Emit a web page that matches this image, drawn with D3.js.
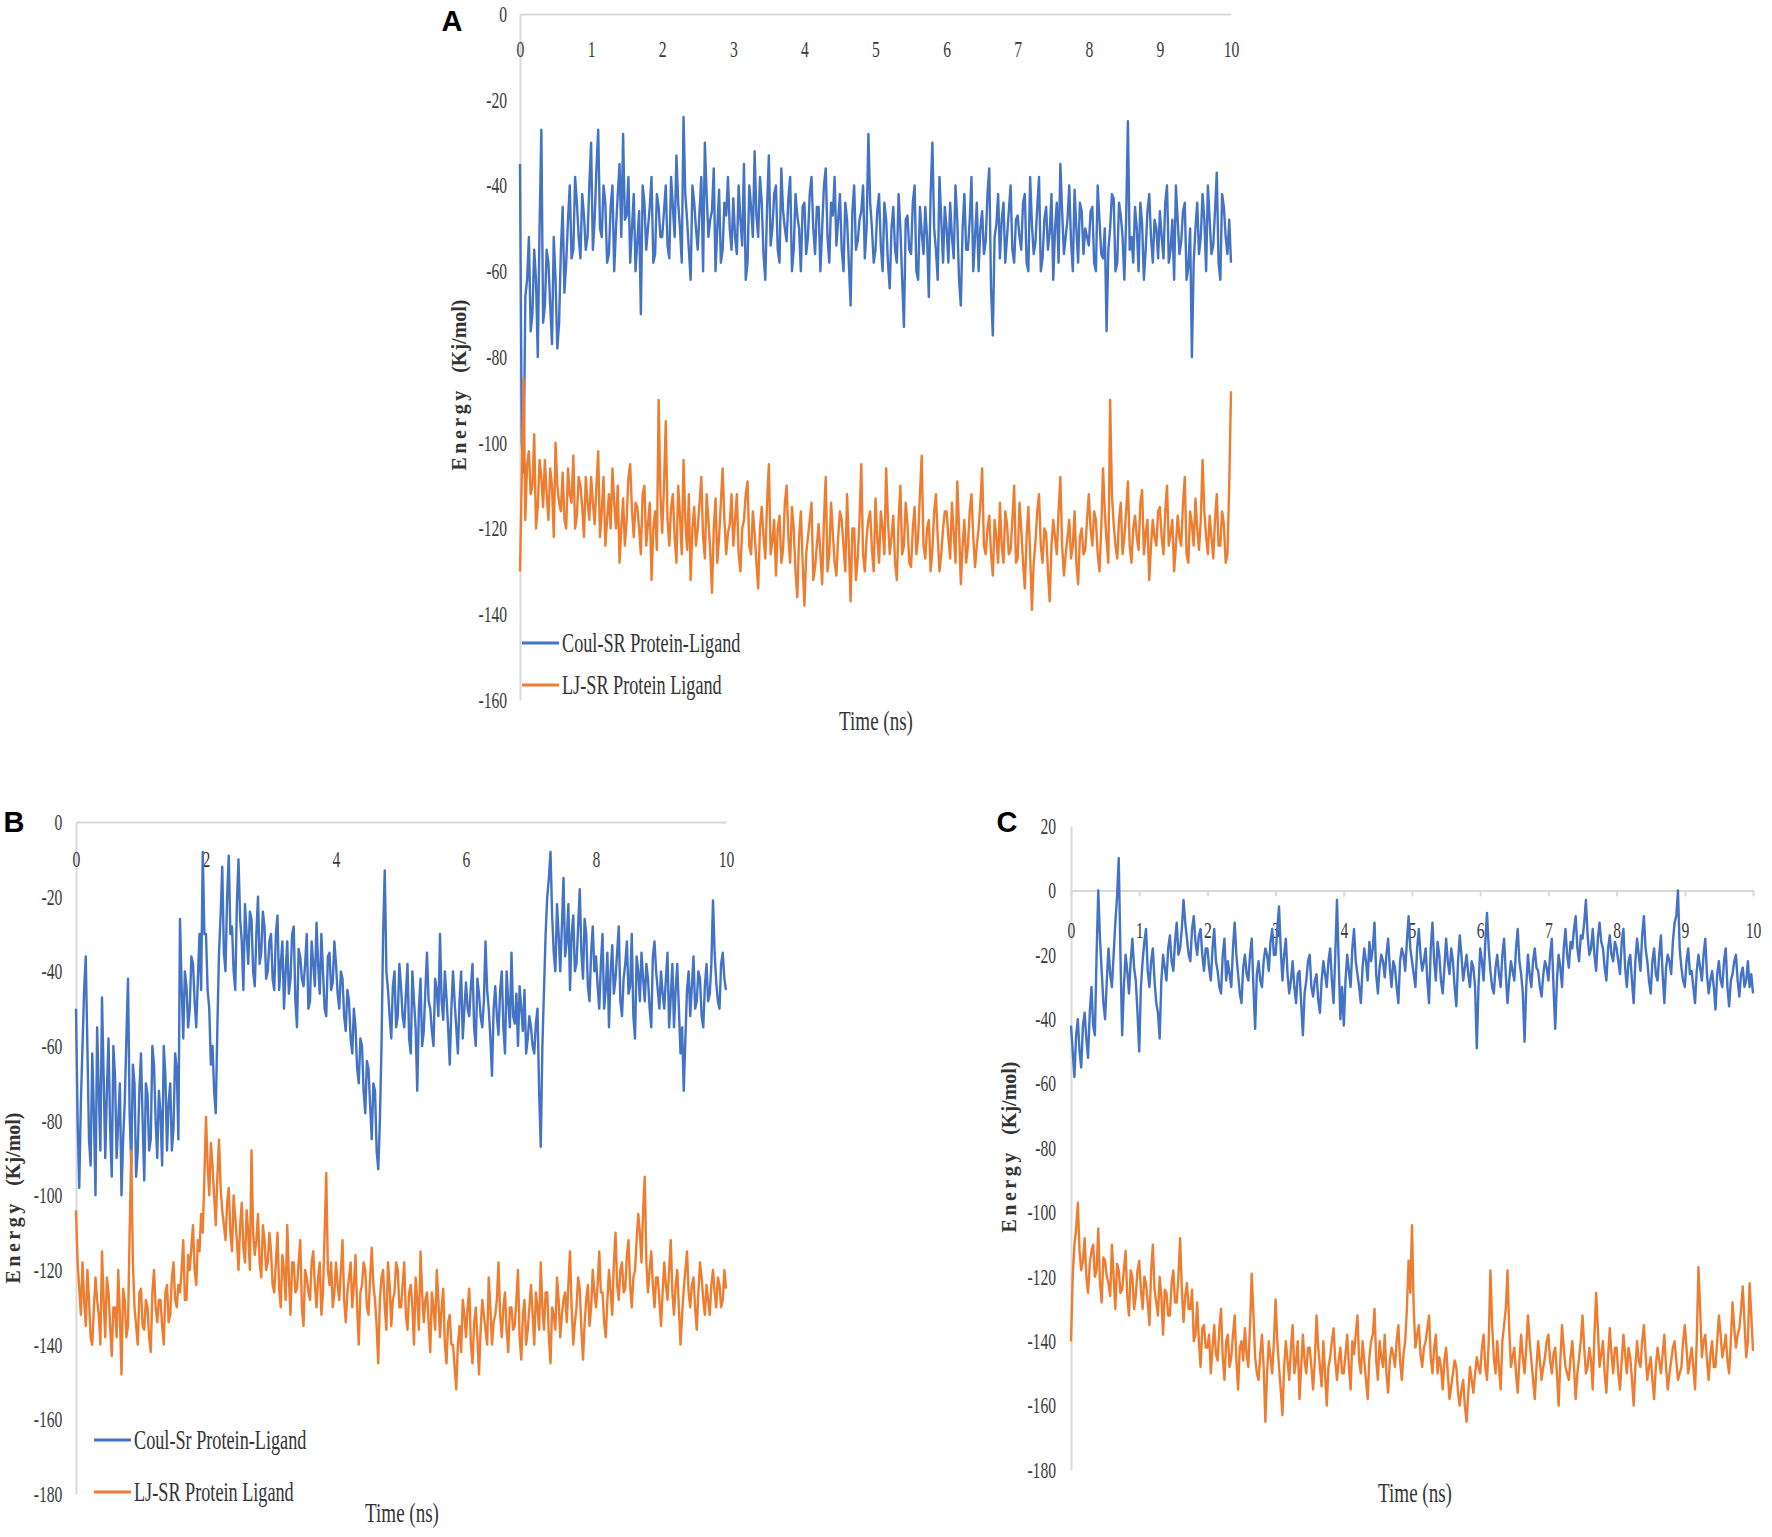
<!DOCTYPE html>
<html lang="en">

<head>
  <meta charset="utf-8" />
  <title>Energy (Kj/mol) vs Time (ns)</title>
  <script type="text/javascript" src="https://cdnjs.cloudflare.com/ajax/libs/d3/7.8.5/d3.min.js"></script>
  <style>
    body {
      margin: 0;
      background: #ffffff;
    }

    .tick text {
      font-family: "Liberation Serif", "Times New Roman", serif;
      font-size: 23px;
      fill: #3a3a3a;
    }

    .axis .domain,
    .axis .tick line {
      stroke: #d9d9d9;
      stroke-width: 2;
    }

    .serif {
      font-family: "Liberation Serif", "Times New Roman", serif;
      fill: #333333;
    }

    .letter {
      font-family: "Liberation Sans", Arial, sans-serif;
      font-weight: bold;
      font-size: 29px;
      fill: #000;
    }
  </style>
</head>

<body>
  <script type="text/javascript">
    // samples every 0.05 ns (t = 0, 0.05, ... 10) and the in-between samples (t = 0.025, 0.075, ...)
    var step = 0.05;

    // panel A
    var aCoul = [-35, -107, -62, -74, -55, -80, -27, -68, -58, -77, -62, -72, -45, -58, -40, -55, -44, -57, -47, -52,
      -30, -48, -27, -52, -44, -56, -40, -50, -35, -28, -47, -58, -42, -53, -70, -44, -50, -38, -56, -45,
      -52, -40, -57, -45, -33, -50, -24, -48, -62, -44, -55, -38, -30, -52, -46, -60, -41, -55, -47, -50,
      -43, -56, -48, -35, -58, -45, -32, -52, -44, -62, -33, -50, -40, -58, -46, -53, -38, -55, -47, -60,
      -44, -52, -38, -56, -45, -50, -36, -58, -47, -54, -42, -60, -48, -68, -40, -53, -46, -57, -28, -50,
      -55, -42, -60, -48, -64, -45, -58, -50, -73, -47, -56, -40, -62, -51, -45, -66, -30, -55, -38, -58,
      -50, -44, -57, -48, -68, -42, -55, -38, -52, -60, -46, -53, -36, -75, -49, -57, -44, -52, -40, -58,
      -47, -55, -42, -60, -49, -53, -38, -57, -45, -51, -62, -44, -35, -56, -48, -53, -41, -58, -46, -50,
      -54, -45, -60, -48, -57, -74, -50, -43, -58, -47, -62, -25, -52, -45, -60, -49, -55, -42, -58, -50,
      -46, -57, -40, -55, -62, -48, -53, -44, -59, -80, -50, -56, -42, -60, -48, -54, -37, -62, -45, -56,
      -58];
    var aCoulHalf = [-100, -66, -52, -70, -62, -50, -72, -55, -68, -52, -78, -55, -65, -48, -57, -38, -52, -42, -55, -40,
      -55, -36, -50, -40, -58, -45, -60, -42, -52, -48, -38, -50, -60, -46, -40, -55, -45, -58, -42, -52,
      -46, -54, -38, -52, -44, -58, -42, -55, -40, -50, -46, -60, -42, -48, -36, -50, -58, -44, -38, -55,
      -52, -40, -54, -62, -40, -52, -47, -38, -56, -45, -54, -42, -55, -36, -50, -43, -60, -42, -50, -45,
      -56, -42, -50, -45, -60, -40, -52, -44, -38, -48, -55, -44, -58, -46, -55, -48, -40, -50, -44, -58,
      -46, -54, -44, -58, -50, -55, -42, -62, -48, -55, -44, -60, -45, -56, -52, -42, -50, -62, -48, -45,
      -58, -52, -40, -62, -50, -55, -48, -60, -44, -50, -56, -42, -64, -52, -42, -48, -58, -46, -55, -48,
      -52, -44, -58, -38, -56, -45, -60, -48, -55, -42, -50, -58, -46, -52, -40, -60, -50, -44, -56, -52,
      -46, -58, -40, -56, -50, -55, -42, -60, -44, -52, -48, -55, -58, -50, -44, -62, -46, -52, -48, -57,
      -52, -44, -58, -48, -40, -56, -46, -62, -50, -58, -44, -52, -48, -40, -56, -46, -58, -42, -52, -48];
    var aLJ = [-130, -85, -105, -112, -98, -115, -108, -104, -118, -110, -100, -114, -107, -120, -112, -103, -117, -110, -122, -114,
      -108, -119, -102, -116, -124, -112, -106, -120, -128, -113, -118, -105, -122, -115, -126, -110, -119, -132, -116, -90,
      -121, -95, -124, -112, -128, -117, -104, -125, -132, -115, -120, -108, -127, -118, -135, -113, -122, -106, -126, -119,
      -124, -112, -130, -118, -109, -126, -121, -134, -115, -127, -105, -123, -131, -117, -125, -110, -128, -120, -136, -116,
      -138, -122, -114, -129, -119, -133, -108, -126, -121, -131, -116, -124, -112, -137, -120, -127, -105, -130, -118, -125,
      -113, -128, -120, -106, -126, -117, -132, -110, -124, -119, -129, -115, -122, -103, -127, -118, -125, -112, -130, -120,
      -116, -127, -121, -109, -133, -118, -124, -112, -129, -120, -106, -126, -117, -131, -122, -114, -128, -119, -125, -110,
      -127, -120, -134, -115, -139, -123, -112, -128, -121, -137, -118, -126, -108, -131, -122, -127, -116, -133, -120, -125,
      -112, -124, -118, -130, -106, -123, -90, -119, -127, -114, -122, -109, -128, -117, -125, -111, -121, -132, -118, -124,
      -115, -126, -110, -121, -130, -117, -124, -108, -128, -119, -113, -125, -104, -122, -117, -127, -112, -124, -119, -126,
      -88];
    var aLJHalf = [-108, -118, -102, -110, -120, -104, -115, -112, -106, -122, -110, -116, -118, -106, -114, -120, -108, -115, -108, -118,
      -114, -110, -122, -108, -118, -120, -114, -110, -120, -124, -108, -116, -114, -120, -112, -124, -114, -120, -125, -112,
      -110, -118, -115, -122, -110, -126, -118, -112, -120, -124, -114, -122, -112, -125, -120, -128, -114, -118, -121, -112,
      -118, -126, -120, -112, -124, -116, -128, -120, -122, -114, -126, -118, -120, -128, -114, -122, -115, -130, -122, -128,
      -126, -118, -132, -124, -126, -118, -130, -114, -128, -122, -118, -130, -124, -120, -132, -118, -126, -122, -116, -130,
      -122, -116, -126, -118, -122, -128, -118, -126, -114, -128, -120, -126, -112, -124, -120, -130, -116, -122, -126, -116,
      -122, -114, -128, -120, -124, -128, -116, -122, -124, -114, -124, -120, -126, -118, -128, -124, -116, -126, -118, -128,
      -114, -128, -122, -126, -128, -116, -124, -120, -130, -124, -122, -116, -124, -126, -118, -124, -128, -122, -126, -118,
      -120, -116, -126, -120, -116, -128, -112, -124, -118, -126, -116, -124, -120, -122, -114, -126, -118, -124, -122, -116,
      -122, -116, -124, -118, -124, -122, -114, -126, -116, -124, -120, -118, -116, -126, -122, -118, -124, -116, -128, -110];

    // panel B
    var bCoul = [-50, -98, -60, -36, -85, -62, -100, -72, -47, -90, -58, -95, -68, -80, -100, -75, -42, -92, -70, -88,
      -62, -96, -73, -85, -65, -90, -78, -60, -88, -70, -82, -66, -26, -58, -44, -50, -38, -55, -30, -8,
      -30, -50, -60, -78, -35, -12, -40, -9, -28, -45, -10, -32, -22, -38, -26, -44, -20, -35, -28, -40,
      -30, -45, -25, -38, -50, -32, -42, -28, -55, -36, -44, -30, -48, -38, -27, -46, -40, -52, -35, -43,
      -38, -50, -42, -56, -48, -62, -55, -70, -60, -78, -66, -85, -72, -93, -60, -13, -45, -58, -40, -52,
      -44, -55, -38, -62, -48, -72, -42, -56, -35, -50, -60, -45, -30, -53, -47, -65, -40, -55, -48, -58,
      -43, -52, -38, -60, -46, -55, -32, -50, -68, -44, -57, -40, -62, -48, -35, -54, -60, -50, -45, -58,
      -55, -62, -50, -87, -45, -20, -8, -35, -22, -40, -15, -32, -45, -25, -38, -18, -42, -30, -48, -28,
      -36, -50, -30, -45, -55, -33, -42, -28, -52, -38, -46, -30, -58, -40, -35, -48, -42, -55, -32, -45,
      -40, -50, -35, -47, -55, -38, -62, -72, -45, -52, -36, -48, -42, -55, -38, -46, -21, -43, -50, -35,
      -45];
    var bCoulHalf = [-80, -75, -45, -60, -92, -78, -55, -88, -68, -72, -82, -60, -90, -70, -85, -58, -78, -65, -95, -72,
      -80, -70, -88, -60, -80, -72, -92, -68, -75, -88, -62, -85, -44, -40, -55, -36, -48, -42, -45, -30,
      -45, -65, -72, -55, -25, -35, -20, -30, -40, -22, -26, -45, -30, -24, -40, -30, -38, -24, -42, -32,
      -42, -30, -45, -32, -40, -46, -30, -48, -34, -42, -38, -50, -32, -44, -38, -30, -50, -36, -45, -32,
      -46, -40, -52, -45, -58, -50, -66, -58, -72, -64, -76, -70, -88, -80, -30, -40, -52, -44, -55, -38,
      -52, -46, -58, -40, -55, -50, -60, -45, -48, -56, -42, -52, -48, -40, -55, -50, -48, -62, -40, -50,
      -50, -44, -55, -42, -52, -48, -45, -58, -50, -52, -45, -55, -40, -55, -52, -46, -44, -56, -62, -52,
      -60, -54, -72, -60, -30, -15, -25, -40, -30, -28, -36, -22, -30, -40, -28, -35, -26, -44, -35, -40,
      -44, -38, -50, -35, -40, -46, -35, -48, -42, -32, -44, -52, -36, -48, -42, -38, -50, -36, -40, -50,
      -46, -42, -55, -38, -45, -50, -55, -58, -40, -44, -50, -40, -52, -44, -48, -38, -35, -48, -38, -42];
    var bLJ = [-104, -125, -118, -135, -128, -140, -122, -132, -115, -138, -126, -143, -130, -120, -148, -128, -135, -88, -130, -140,
      -125, -136, -130, -142, -120, -134, -128, -140, -124, -132, -118, -130, -126, -112, -128, -120, -108, -124, -115, -110,
      -79, -100, -92, -108, -85, -104, -112, -98, -115, -106, -120, -102, -118, -110, -88, -116, -105, -122, -112, -118,
      -115, -126, -110, -130, -120, -108, -132, -118, -125, -112, -135, -122, -128, -115, -130, -118, -126, -94, -124, -130,
      -118, -128, -112, -134, -122, -130, -116, -140, -124, -120, -132, -114, -128, -145, -122, -130, -118, -135, -126, -120,
      -130, -118, -136, -124, -140, -128, -115, -134, -126, -142, -130, -120, -138, -125, -145, -132, -140, -152, -135, -128,
      -138, -125, -145, -130, -148, -128, -136, -122, -140, -132, -118, -138, -126, -142, -130, -135, -120, -144, -128, -136,
      -124, -140, -130, -118, -136, -126, -145, -132, -122, -138, -128, -134, -115, -140, -130, -125, -144, -128, -135, -120,
      -130, -115, -126, -138, -120, -132, -110, -128, -118, -125, -112, -130, -120, -105, -118, -95, -126, -115, -130, -122,
      -135, -118, -128, -112, -132, -120, -140, -125, -115, -130, -122, -136, -118, -128, -124, -132, -120, -130, -124, -128,
      -125];
    var bLJHalf = [-118, -132, -128, -120, -138, -130, -128, -140, -128, -122, -135, -130, -138, -132, -125, -138, -110, -118, -135, -126,
      -135, -128, -138, -126, -130, -128, -135, -126, -134, -122, -128, -124, -120, -128, -116, -114, -120, -112, -105, -95,
      -92, -86, -100, -95, -98, -108, -102, -110, -100, -112, -108, -114, -104, -120, -110, -112, -118, -108, -120, -110,
      -124, -118, -125, -116, -128, -122, -118, -126, -118, -130, -120, -126, -118, -124, -122, -132, -110, -120, -118, -126,
      -124, -120, -128, -126, -118, -124, -130, -126, -118, -130, -122, -124, -135, -128, -120, -136, -124, -128, -118, -130,
      -124, -132, -126, -130, -122, -136, -126, -128, -134, -126, -136, -128, -130, -140, -134, -140, -146, -140, -142, -132,
      -130, -140, -134, -138, -136, -132, -140, -130, -134, -128, -132, -130, -136, -130, -136, -128, -138, -132, -140, -130,
      -132, -126, -136, -130, -126, -138, -130, -136, -128, -132, -126, -124, -130, -134, -122, -136, -134, -124, -130, -126,
      -124, -126, -134, -128, -126, -118, -124, -120, -126, -116, -124, -122, -112, -110, -104, -118, -120, -124, -122, -128,
      -126, -124, -120, -126, -124, -130, -132, -120, -126, -124, -130, -126, -122, -132, -128, -124, -126, -122, -130, -120];

    // panel C
    var cCoul = [-42, -58, -40, -55, -38, -52, -30, -45, 0, -25, -40, -18, -30, -10, 10, -45, -20, -32, -15, -28,
      -50, -22, -12, -30, -18, -35, -46, -20, -28, -14, -25, -10, -18, -3, -15, -22, -8, -20, -12, -25,
      -18, -28, -12, -25, -32, -15, -22, -30, -10, -26, -35, -20, -28, -15, -43, -22, -30, -18, -25, -12,
      -20, -5, -28, -15, -32, -22, -35, -25, -45, -28, -20, -33, -26, -38, -22, -30, -18, -35, -3, -40,
      -42, -20, -30, -12, -26, -35, -18, -28, -22, -10, -32, -20, -27, -15, -30, -24, -35, -18, -25, -8,
      -22, -30, -12, -25, -18, -35, -10, -28, -20, -32, -15, -26, -22, -36, -14, -28, -20, -30, -24, -49,
      -18, -28, -7, -25, -32, -20, -30, -15, -35, -22, -28, -12, -26, -47, -20, -30, -18, -25, -33, -22,
      -28, -15, -43, -20, -30, -12, -24, -18, -8, -22, -15, -3, -20, -12, -25, -10, -18, -28, -14, -22,
      -18, -26, -12, -30, -20, -35, -15, -25, -8, -22, -32, -18, -28, -14, -35, -20, -26, -10, 0, -24,
      -30, -18, -25, -35, -20, -28, -15, -32, -25, -37, -22, -30, -18, -36, -26, -20, -33, -24, -28, -30,
      -32];
    var cCoulHalf = [-50, -45, -50, -42, -46, -38, -42, -20, -15, -35, -28, -26, -20, -2, -20, -30, -25, -22, -24, -38,
      -30, -16, -25, -22, -28, -38, -28, -24, -18, -22, -16, -20, -12, -10, -20, -12, -16, -14, -20, -18,
      -24, -18, -22, -30, -20, -28, -26, -18, -20, -32, -24, -26, -20, -30, -26, -28, -22, -20, -16, -20,
      -12, -18, -20, -26, -28, -30, -26, -35, -32, -22, -30, -28, -34, -28, -26, -22, -28, -20, -22, -30,
      -28, -25, -18, -22, -30, -24, -22, -16, -18, -26, -24, -22, -20, -24, -22, -30, -22, -20, -16, -18,
      -26, -18, -20, -22, -28, -18, -22, -16, -28, -24, -22, -18, -30, -22, -20, -24, -26, -22, -30, -30,
      -22, -16, -18, -30, -24, -26, -20, -26, -28, -25, -18, -22, -32, -30, -26, -22, -24, -30, -26, -24,
      -20, -30, -28, -24, -18, -20, -16, -12, -18, -14, -10, -14, -18, -20, -15, -16, -24, -18, -20, -16,
      -22, -16, -24, -22, -28, -22, -20, -14, -18, -28, -22, -26, -20, -26, -24, -22, -16, -8, -18, -28,
      -22, -26, -30, -25, -24, -20, -26, -28, -30, -26, -28, -22, -30, -28, -22, -28, -26, -30, -22, -26];
    var cLJ = [-140, -110, -97, -118, -108, -125, -112, -120, -105, -128, -115, -122, -110, -130, -118, -124, -112, -132, -120, -126,
      -115, -130, -122, -135, -110, -128, -120, -138, -125, -132, -118, -128, -108, -134, -122, -130, -140, -128, -148, -135,
      -142, -150, -135, -146, -130, -152, -138, -145, -132, -155, -140, -136, -148, -119, -145, -152, -138, -165, -140, -150,
      -127, -148, -163, -140, -152, -135, -146, -158, -138, -150, -142, -155, -132, -148, -140, -160, -145, -136, -152, -142,
      -150, -138, -155, -144, -132, -150, -146, -158, -140, -130, -152, -145, -138, -156, -142, -148, -135, -152, -140, -115,
      -104, -142, -135, -148, -140, -132, -150, -138, -145, -155, -142, -158, -150, -148, -160, -152, -165, -148, -156, -145,
      -150, -138, -152, -118, -145, -140, -155, -135, -118, -148, -142, -156, -138, -150, -132, -146, -158, -140, -152, -145,
      -138, -150, -142, -160, -135, -148, -152, -140, -158, -145, -132, -150, -142, -155, -125, -148, -140, -156, -136, -150,
      -142, -155, -138, -150, -145, -160, -140, -148, -135, -152, -145, -158, -142, -150, -138, -155, -146, -140, -152, -148,
      -135, -150, -142, -155, -117, -145, -138, -152, -140, -148, -132, -145, -138, -150, -128, -142, -136, -123, -145, -122,
      -143];
    var cLJHalf = [-120, -105, -112, -115, -120, -116, -110, -118, -122, -114, -120, -126, -120, -116, -125, -118, -126, -118, -130, -118,
      -124, -120, -128, -118, -124, -132, -126, -124, -132, -122, -128, -120, -124, -126, -130, -124, -138, -140, -136, -142,
      -138, -142, -144, -136, -145, -140, -148, -138, -146, -142, -146, -144, -135, -132, -150, -144, -148, -150, -145, -140,
      -140, -155, -148, -146, -142, -150, -140, -148, -146, -142, -148, -146, -142, -154, -150, -148, -140, -146, -146, -150,
      -144, -148, -140, -138, -146, -140, -152, -145, -138, -146, -140, -148, -150, -146, -144, -140, -146, -144, -130, -125,
      -130, -138, -144, -142, -136, -145, -142, -150, -148, -146, -150, -154, -146, -156, -155, -160, -156, -152, -150, -148,
      -142, -148, -140, -135, -150, -148, -140, -130, -136, -145, -150, -146, -145, -142, -140, -152, -148, -146, -148, -140,
      -146, -144, -150, -146, -142, -150, -145, -148, -150, -140, -142, -148, -146, -138, -136, -144, -150, -145, -144, -142,
      -150, -146, -144, -142, -152, -148, -146, -140, -144, -148, -152, -148, -146, -144, -148, -150, -142, -146, -150, -140,
      -142, -146, -148, -140, -130, -140, -146, -144, -148, -140, -138, -142, -146, -140, -136, -138, -130, -134, -140, -132];

    // ticks and labels
    var xTicksAC = [0, 1, 2, 3, 4, 5, 6, 7, 8, 9, 10];
    var xTicksB = [0, 2, 4, 6, 8, 10];
    var yTicksA = [0, -20, -40, -60, -80, -100, -120, -140, -160];
    var yTicksB = [0, -20, -40, -60, -80, -100, -120, -140, -160, -180];
    var yTicksC = [20, 0, -20, -40, -60, -80, -100, -120, -140, -160, -180];
    var legendA = ["Coul-SR Protein-Ligand", "LJ-SR Protein Ligand"];
    var legendB = ["Coul-Sr Protein-Ligand", "LJ-SR Protein Ligand"];
    var colors = ["#4472c4", "#ed7d31"];

    // put the in-between samples back in time order
    function weave(main, half) {
      var out = [];
      main.forEach(function (v, i) {
        out.push(v);
        if (i < half.length) out.push(half[i]);
      });
      return out;
    }

    var width = 1772;
    var height = 1537;
    var svg = d3.select("body")
      .append("svg")
      .attr("width", width)
      .attr("height", height);

    var panels = [
      {
        id: "A", series: [weave(aCoul, aCoulHalf), weave(aLJ, aLJHalf)], xTicks: xTicksAC, yTicks: yTicksA, yDomain: [0, -160],
        xr: [520, 1231], yr: [14, 700], yPad: 19, xPad: 27, tick: 0,
        letter: [452, 21], time: [876, 721], energy: [459, 385],
        legend: legendA, legX: 522, legY: [643, 685]
      },
      {
        id: "B", series: [weave(bCoul, bCoulHalf), weave(bLJ, bLJHalf)], xTicks: xTicksB, yTicks: yTicksB, yDomain: [0, -180],
        xr: [76, 726], yr: [822, 1494], yPad: 20, xPad: 29, tick: 0,
        letter: [14, 822], time: [402, 1513], energy: [13, 1198],
        legend: legendB, legX: 94, legY: [1440, 1492]
      },
      {
        id: "C", series: [weave(cCoul, cCoulHalf), weave(cLJ, cLJHalf)], xTicks: xTicksAC, yTicks: yTicksC, yDomain: [20, -180],
        xr: [1071, 1753], yr: [826, 1470], yPad: 22, xPad: 25, tick: 6,
        letter: [1007, 822], time: [1415, 1493], energy: [1009, 1147],
        legend: null
      }
    ];

    function squeezed(x, y, txt, size, sx) {
      return svg.append("text")
        .attr("class", "serif")
        .attr("transform", "translate(" + x + "," + y + ") scale(" + sx + ",1)")
        .attr("text-anchor", "middle")
        .attr("dominant-baseline", "central")
        .attr("font-size", size)
        .text(txt);
    }

    panels.forEach(function (p) {
      var x = d3.scaleLinear().domain([0, 10]).range(p.xr);
      var y = d3.scaleLinear().domain(p.yDomain).range(p.yr);

      // vertical axis
      var yAxis = d3.axisLeft(y)
        .tickValues(p.yTicks)
        .tickSize(0)
        .tickPadding(p.yPad)
        .tickFormat(function (d) { return String(d); });
      var gy = svg.append("g")
        .attr("class", "axis")
        .attr("transform", "translate(" + p.xr[0] + ",0)")
        .call(yAxis);
      gy.selectAll("text").attr("transform", "scale(0.68,1)");

      // horizontal axis on the zero line
      var xAxis = d3.axisBottom(x)
        .tickValues(p.xTicks)
        .tickSizeInner(p.tick)
        .tickSizeOuter(0)
        .tickPadding(p.xPad)
        .tickFormat(function (d) { return String(d); });
      var gx = svg.append("g")
        .attr("class", "axis")
        .attr("transform", "translate(0," + y(0) + ")")
        .call(xAxis);
      gx.selectAll("text").attr("transform", "scale(0.68,1)");
      if (p.tick === 0) gx.selectAll(".tick line").remove();

      // the two curves
      var line = d3.line()
        .x(function (d, i) { return x(i * step / 2); })
        .y(function (d) { return y(d); });
      p.series.forEach(function (s, k) {
        svg.append("path")
          .datum(s)
          .attr("d", line)
          .attr("fill", "none")
          .attr("stroke", colors[k])
          .attr("stroke-width", 2.4)
          .attr("stroke-linejoin", "round");
      });

      // legend
      if (p.legend) {
        p.legend.forEach(function (name, k) {
          svg.append("line")
            .attr("x1", p.legX).attr("x2", p.legX + 37)
            .attr("y1", p.legY[k]).attr("y2", p.legY[k])
            .attr("stroke", colors[k])
            .attr("stroke-width", 3);
          svg.append("text")
            .attr("class", "serif")
            .attr("transform", "translate(" + (p.legX + 40) + "," + p.legY[k] + ") scale(0.65,1)")
            .attr("dominant-baseline", "central")
            .attr("font-size", 28)
            .text(name);
        });
      }

      // titles
      squeezed(p.time[0], p.time[1], "Time (ns)", 28, 0.68);
      var en = svg.append("text")
        .attr("class", "serif")
        .attr("transform", "translate(" + p.energy[0] + "," + p.energy[1] + ") rotate(-90)")
        .attr("text-anchor", "middle")
        .attr("dominant-baseline", "central")
        .attr("font-size", 20)
        .attr("font-weight", "bold")
        .attr("fill", "#404040");
      en.append("tspan").attr("letter-spacing", 3.5).text("Energy ");
      en.append("tspan").attr("dx", 6).text("(Kj/mol)");

      svg.append("text")
        .attr("class", "letter")
        .attr("x", p.letter[0])
        .attr("y", p.letter[1])
        .attr("text-anchor", "middle")
        .attr("dominant-baseline", "central")
        .text(p.id);
    });
  </script>
</body>

</html>
